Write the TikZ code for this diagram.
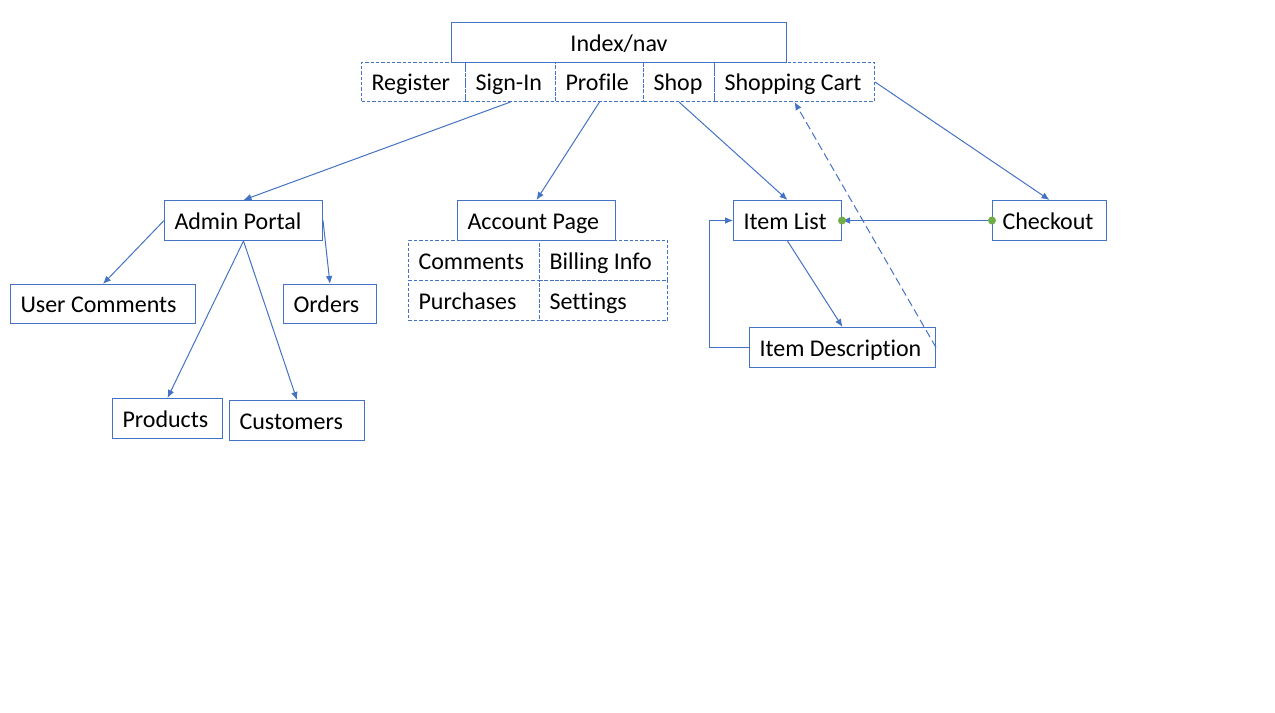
\documentclass[tikz,border=0pt]{standalone}
\usepackage{fontspec}
\setmainfont{Carlito}[Ligatures=NoCommon]
\usetikzlibrary{arrows.meta}
\definecolor{lineBlue}{HTML}{4472C4}
\definecolor{dotGreen}{HTML}{70AD47}

\begin{document}
\begin{tikzpicture}
[x=0.75pt,y=-0.75pt,%
  lineDecorate/.style={-{Latex[length=6pt,width=5pt]},draw=lineBlue,line width=0.75pt},%
  dashDecorate/.style={lineDecorate,dash pattern=on 6pt off 3pt},%
  nodeDecorate/.style={shape=rectangle,draw=lineBlue,line width=0.75pt,anchor=north west,
    inner xsep=7.5pt,inner ysep=0pt,text height=17pt,text depth=4pt},%
  nodeDashed/.style={nodeDecorate,dash pattern=on 2.5pt off 1.5pt}]
\fontsize{18}{22}\selectfont
\useasboundingbox (0,0) rectangle (1275,713);
%% top box
\node[nodeDecorate,minimum width=251.25pt,minimum height=30pt] (index) at (451,22) {Index/nav};
%% boxes with left aligned labels
\foreach \nodename/\kind/\xa/\ya/\xb/\yb/\txt in {
  register/nodeDashed/361/62/465/101/Register, signin/nodeDashed/465/62/555/101/Sign-In,
  profile/nodeDashed/555/62/643/101/Profile, shop/nodeDashed/643/62/714/101/Shop,
  cart/nodeDashed/714/62/874/101/Shopping Cart,
  admin/nodeDecorate/164/200/322/240/Admin Portal,
  account/nodeDecorate/457/200/615/240/Account Page,
  comments/nodeDashed/408/240/539/280/Comments, billing/nodeDashed/539/240/667/280/Billing Info,
  purchases/nodeDashed/408/280/539/320/Purchases, settings/nodeDashed/539/280/667/320/Settings,
  itemlist/nodeDecorate/733/200/841/240/Item List,
  checkout/nodeDecorate/992/200/1106/240/Checkout,
  itemdesc/nodeDecorate/749/327/935/367/Item Description,
  usercomments/nodeDecorate/10/284/195/323/User Comments,
  orders/nodeDecorate/283/284/376/323/Orders,
  products/nodeDecorate/112/398/222/438/Products,
  customers/nodeDecorate/229/400/364/440/Customers}
{
  \pgfmathsetmacro{\w}{(\xb-\xa)*0.75-15}
  \pgfmathsetmacro{\h}{(\yb-\ya)*0.75}
  \node[\kind,minimum height=\h pt] (\nodename) at (\xa,\ya) {\makebox[\w pt][l]{\txt}};
}
%% connect nav items to pages
\draw[lineDecorate] (signin.south) -- (admin.north);
\draw[lineDecorate] (profile.south) -- (account.north);
\draw[lineDecorate] (shop.south) -- (itemlist.north);
\draw[lineDecorate] (cart.east) -- (checkout.north);
%% shop pages
\draw[lineDecorate] (itemlist.south) -- (itemdesc.north);
\draw[lineDecorate] (itemdesc.west) -- ++(-40,0) |- (itemlist.west);
\draw[dashDecorate] (itemdesc.east) -- (cart.south);
\draw[lineDecorate] (checkout.west) -- (itemlist.east);
\fill[dotGreen] (checkout.west) circle (3pt) (itemlist.east) circle (3pt);
%% admin pages
\draw[lineDecorate] (admin.west) -- (usercomments.north);
\draw[lineDecorate] (admin.east) -- (orders.north);
\draw[lineDecorate] (admin.south) -- (products.north);
\draw[lineDecorate] (admin.south) -- (customers.north);
\end{tikzpicture}
\end{document}
